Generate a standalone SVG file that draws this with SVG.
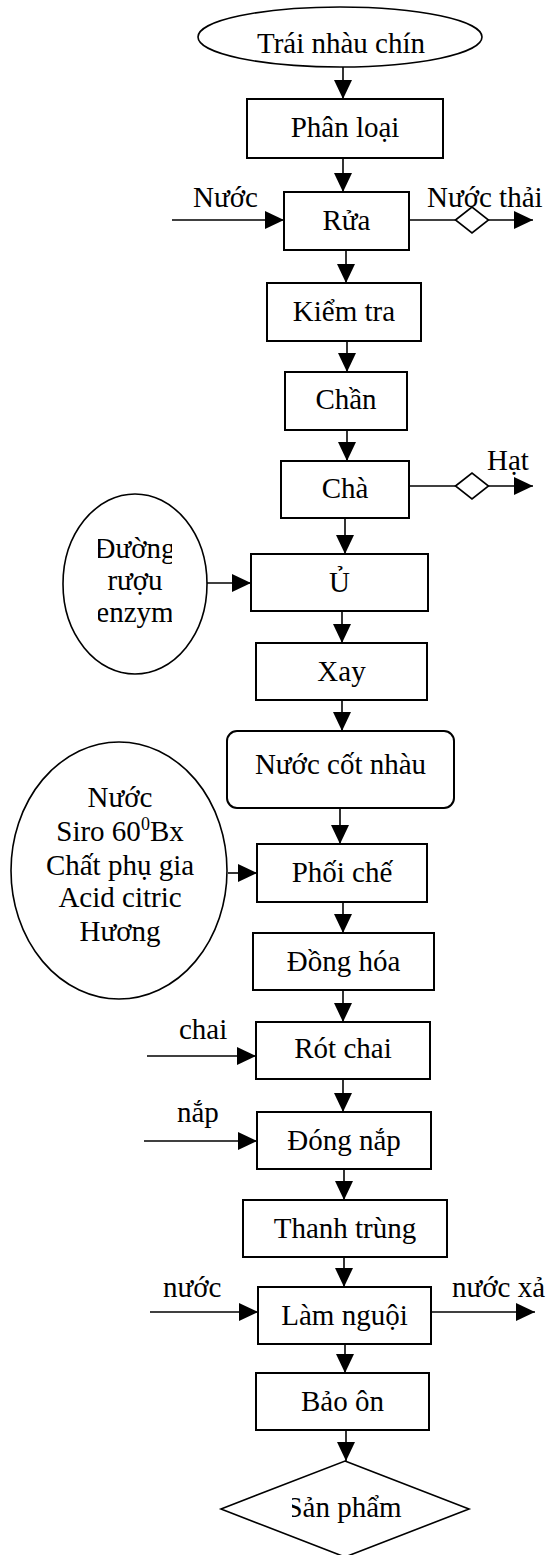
<svg xmlns="http://www.w3.org/2000/svg" width="547" height="1555" viewBox="0 0 547 1555">
<style>
.box{fill:#fff;stroke:#000;stroke-width:2}
.sh{fill:#fff;stroke:#000;stroke-width:1.6}
.ln{fill:none;stroke:#000;stroke-width:1.6}
.t{font-family:"Liberation Serif","Times New Roman",serif;font-size:29px;fill:#000}
.c{text-anchor:middle}
</style>
<defs>
<marker id="ah" markerUnits="userSpaceOnUse" viewBox="0 0 19 18" markerWidth="19" markerHeight="18" refX="19" refY="9" orient="auto">
<path d="M0,0 L19,9 L0,18 z" fill="#000"/>
</marker>
<clipPath id="clipE1"><rect x="98" y="520" width="74" height="120"/></clipPath>
<clipPath id="clipSP"><rect x="292" y="1480" width="150" height="50"/></clipPath>
</defs>

<g id="connectors">
<line class="ln" x1="343" y1="67" x2="343" y2="99" marker-end="url(#ah)"/>
<line class="ln" x1="343" y1="158" x2="343" y2="192" marker-end="url(#ah)"/>
<line class="ln" x1="346" y1="250" x2="346" y2="283" marker-end="url(#ah)"/>
<line class="ln" x1="347" y1="341" x2="347" y2="372" marker-end="url(#ah)"/>
<line class="ln" x1="347" y1="430" x2="347" y2="461" marker-end="url(#ah)"/>
<line class="ln" x1="345" y1="518" x2="345" y2="554" marker-end="url(#ah)"/>
<line class="ln" x1="342" y1="611" x2="342" y2="643" marker-end="url(#ah)"/>
<line class="ln" x1="342" y1="700" x2="342" y2="731" marker-end="url(#ah)"/>
<line class="ln" x1="340" y1="808" x2="340" y2="844" marker-end="url(#ah)"/>
<line class="ln" x1="343" y1="902" x2="343" y2="933" marker-end="url(#ah)"/>
<line class="ln" x1="343" y1="990" x2="343" y2="1022" marker-end="url(#ah)"/>
<line class="ln" x1="343" y1="1079" x2="343" y2="1112" marker-end="url(#ah)"/>
<line class="ln" x1="344" y1="1169" x2="344" y2="1200" marker-end="url(#ah)"/>
<line class="ln" x1="344" y1="1257" x2="344" y2="1287" marker-end="url(#ah)"/>
<line class="ln" x1="345" y1="1344" x2="345" y2="1373" marker-end="url(#ah)"/>
<line class="ln" x1="346" y1="1430" x2="346" y2="1461" marker-end="url(#ah)"/>
<line class="ln" x1="172" y1="220" x2="284" y2="220" marker-end="url(#ah)"/>
<line class="ln" x1="409" y1="220" x2="533" y2="220" marker-end="url(#ah)"/>
<polygon class="sh" points="455.5,220 472,207 488.5,220 472,233"/>
<line class="ln" x1="409" y1="486" x2="533" y2="486" marker-end="url(#ah)"/>
<polygon class="sh" points="455.5,486 472,473 488.5,486 472,499"/>
<line class="ln" x1="207" y1="583" x2="251" y2="583" marker-end="url(#ah)"/>
<line class="ln" x1="228" y1="873" x2="257" y2="873" marker-end="url(#ah)"/>
<line class="ln" x1="147" y1="1056" x2="256" y2="1056" marker-end="url(#ah)"/>
<line class="ln" x1="144" y1="1141" x2="257" y2="1141" marker-end="url(#ah)"/>
<line class="ln" x1="150" y1="1312" x2="258" y2="1312" marker-end="url(#ah)"/>
<line class="ln" x1="431" y1="1312" x2="535" y2="1312" marker-end="url(#ah)"/>
</g>

<g id="labels">
<text class="t" x="193" y="207">Nước</text>
<text class="t" x="427" y="207">Nước thải</text>
<text class="t" x="487" y="470">Hạt</text>
<text class="t" x="179" y="1039">chai</text>
<text class="t" x="177" y="1122">nắp</text>
<text class="t" x="163" y="1297">nước</text>
<text class="t" x="452" y="1297">nước xả</text>
</g>

<g id="n-trai">
<ellipse class="sh" cx="340" cy="37" rx="142" ry="30"/>
<text class="t c" x="341" y="53">Trái nhàu chín</text>
</g>
<g id="n-phanloai">
<rect class="box" x="247" y="99" width="196" height="59"/>
<text class="t c" x="345" y="137">Phân loại</text>
</g>
<g id="n-rua">
<rect class="box" x="284" y="192" width="125" height="58"/>
<text class="t c" x="346.5" y="230">Rửa</text>
</g>
<g id="n-kiemtra">
<rect class="box" x="267" y="283" width="154" height="58"/>
<text class="t c" x="344" y="321">Kiểm tra</text>
</g>
<g id="n-chan">
<rect class="box" x="285" y="372" width="122" height="58"/>
<text class="t c" x="346" y="409">Chần</text>
</g>
<g id="n-cha">
<rect class="box" x="281" y="461" width="128" height="57"/>
<text class="t c" x="345" y="498">Chà</text>
</g>
<g id="n-duong">
<ellipse class="sh" cx="135" cy="584" rx="72" ry="90"/>
<g clip-path="url(#clipE1)">
<text class="t c" x="135" y="558">Đường</text>
<text class="t c" x="135" y="590">rượu</text>
<text class="t c" x="135" y="622">enzym</text>
</g>
</g>
<g id="n-u">
<rect class="box" x="251" y="554" width="177" height="57"/>
<text class="t c" x="339.5" y="592">Ủ</text>
</g>
<g id="n-xay">
<rect class="box" x="256" y="643" width="171" height="57"/>
<text class="t c" x="341.5" y="681">Xay</text>
</g>
<g id="n-nuoccot">
<rect class="box" x="227" y="731" width="227" height="77" rx="10" ry="10"/>
<text class="t c" x="340.5" y="774">Nước cốt nhàu</text>
</g>
<g id="n-phugia">
<ellipse class="sh" cx="119" cy="870.5" rx="108" ry="128.5"/>
<text class="t c" x="120" y="807">Nước</text>
<text class="t c" x="120" y="841">Siro 60<tspan font-size="18" dy="-11">0</tspan><tspan dy="11">Bx</tspan></text>
<text class="t c" x="120" y="875">Chất phụ gia</text>
<text class="t c" x="120" y="907">Acid citric</text>
<text class="t c" x="120" y="941">Hương</text>
</g>
<g id="n-phoiche">
<rect class="box" x="257" y="844" width="170" height="58"/>
<text class="t c" x="342" y="882">Phối chế</text>
</g>
<g id="n-donghoa">
<rect class="box" x="253" y="933" width="181" height="57"/>
<text class="t c" x="343.5" y="971">Đồng hóa</text>
</g>
<g id="n-rotchai">
<rect class="box" x="256" y="1022" width="174" height="57"/>
<text class="t c" x="343" y="1058">Rót chai</text>
</g>
<g id="n-dongnap">
<rect class="box" x="257" y="1112" width="174" height="57"/>
<text class="t c" x="344" y="1150">Đóng nắp</text>
</g>
<g id="n-thanhtrung">
<rect class="box" x="243" y="1200" width="204" height="57"/>
<text class="t c" x="345" y="1238">Thanh trùng</text>
</g>
<g id="n-lamnguoi">
<rect class="box" x="258" y="1287" width="173" height="57"/>
<text class="t c" x="344.5" y="1325">Làm nguội</text>
</g>
<g id="n-baoon">
<rect class="box" x="256" y="1373" width="173" height="57"/>
<text class="t c" x="342.5" y="1411">Bảo ôn</text>
</g>
<g id="n-sanpham">
<polygon class="sh" points="345,1461 469,1509 345,1557 221,1509"/>
<g clip-path="url(#clipSP)">
<text class="t c" x="344" y="1517">Sản phẩm</text>
</g>
</g>
</svg>
